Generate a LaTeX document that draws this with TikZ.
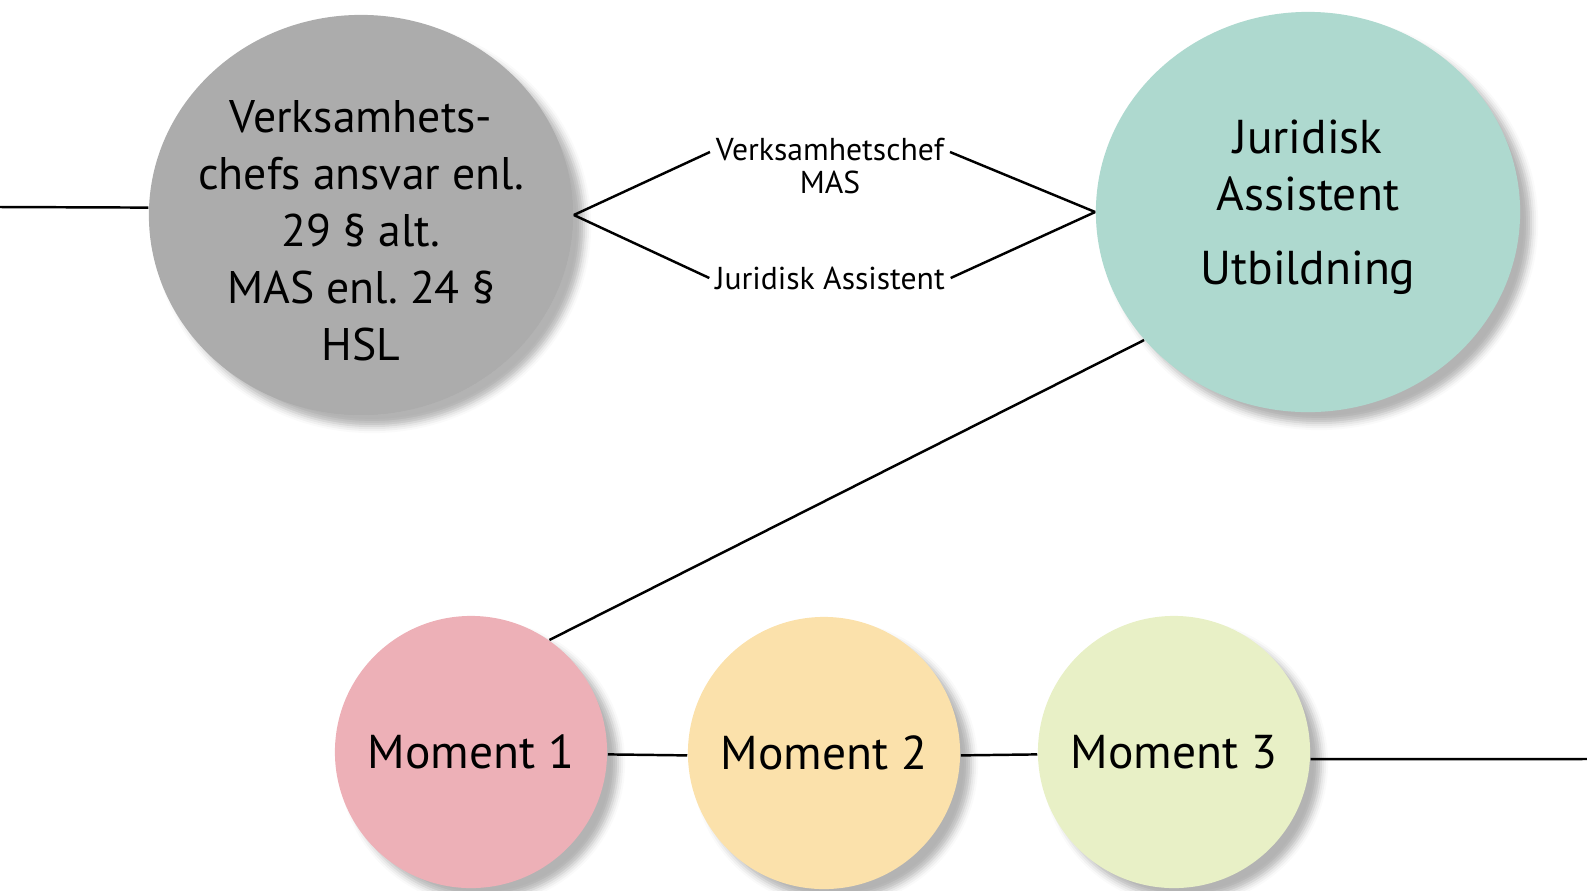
\documentclass[tikz,border=0pt]{standalone}
\usepackage{fontspec}
\setmainfont{PT Sans}
\frenchspacing
\usetikzlibrary{shapes.geometric,shadows.blur}

\definecolor{verksgray}{RGB}{172,172,172}
\definecolor{juridiskteal}{RGB}{174,217,207}
\definecolor{momentpink}{RGB}{237,176,183}
\definecolor{momentpeach}{RGB}{251,225,171}
\definecolor{momentgreen}{RGB}{232,240,198}

\begin{document}
\begin{tikzpicture}[x=0.01cm, y=-0.01cm,
    bubble/.style={ellipse, inner sep=-1cm, align=center,
        font=\fontsize{13.5}{16.2}\selectfont,
        blur shadow={shadow xshift=0.11cm, shadow yshift=-0.11cm,
            shadow blur radius=0.07cm, shadow opacity=30}},
    bigbubble/.style={bubble, minimum width=4.24cm, minimum height=4cm},
    momentbubble/.style={bubble, minimum width=2.72cm, minimum height=2.72cm},
    tag/.style={align=center, inner sep=1.5pt, font=\fontsize{9}{9.4}\selectfont},
    link/.style={line width=0.7pt}]
    \useasboundingbox (0,0) rectangle (1587,890);

    % 大きい円の描画
    \node[bigbubble, fill=verksgray, font=\fontsize{13}{16.2}\selectfont] (verks) at (361,215)
        {\rule{0pt}{18pt}Verksamhets-\\chefs ansvar enl.\\29 § alt.\\MAS enl. 24 §\\HSL};
    \node[bigbubble, fill=juridiskteal] (juridisk) at (1308,212)
        {Juridisk\\Assistent\\[5pt]Utbildning\rule[-5.5pt]{0pt}{1pt}};

    % 小さい円の描画
    \node[momentbubble, fill=momentpink] (m1) at (471,752) {Moment 1};
    \node[momentbubble, fill=momentpeach] (m2) at (824,753) {Moment 2};
    \node[momentbubble, fill=momentgreen] (m3) at (1174,752) {Moment 3};

    % ラベルの描画
    \node[tag] (chefs) at (830,166) {Verksamhetschef\\MAS};
    \node[tag] (jura) at (830,278) {Juridisk Assistent};

    % 線の描画
    \coordinate (leftend) at (0,207);
    \coordinate (rightend) at (1587,759);
    \draw[link] (leftend) -- (verks.178);
    \draw[link] (verks.east) -- ([yshift=0.14cm]chefs.west);
    \draw[link] ([yshift=0.14cm]chefs.east) -- (juridisk.west);
    \draw[link] (verks.east) -- (jura.west);
    \draw[link] (jura.east) -- (juridisk.west);
    \draw[link] (juridisk.218) -- (m1.55);
    \draw[link] (m1.-1.5) -- (m2.181.5);
    \draw[link] (m2.-1.5) -- (m3.181.5);
    \draw[link] (m3.-3) -- (rightend);

\end{tikzpicture}
\end{document}
